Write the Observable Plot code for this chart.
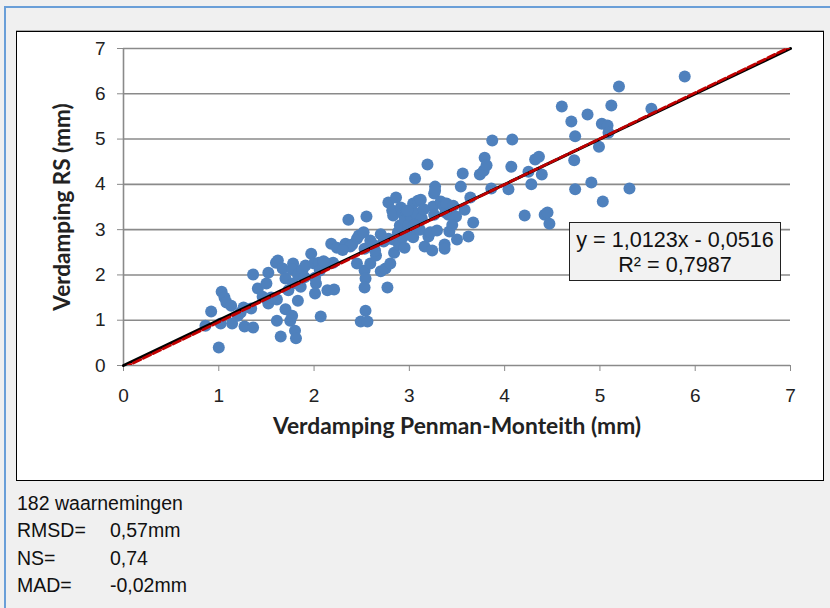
<!DOCTYPE html>
<html><head><meta charset="utf-8">
<script src="https://cdn.jsdelivr.net/npm/d3@7"></script>
<script src="https://cdn.jsdelivr.net/npm/@observablehq/plot@0.6"></script>
<style>
html,body{margin:0;padding:0}
body{width:830px;height:608px;overflow:hidden;background:#f0f0f0;font-family:"Liberation Sans",Arial,sans-serif;position:relative}
#frame{position:absolute;left:4px;top:6px;right:0;bottom:0;border-left:2px solid #6a9fd8;border-top:2px solid #6a9fd8}
#box{position:absolute;left:16px;top:31px;width:808px;height:450px;background:#fff;border:1px solid #000;box-sizing:border-box;box-shadow:0 -1px 0 #aaa}
#box svg{position:absolute;left:0;top:0;overflow:visible}
#eq{position:absolute;left:569px;top:222px;width:212px;height:59px;box-sizing:border-box;background:#f2f2f2;border:1.5px solid #222;text-align:center;font-size:21.6px;line-height:25px;padding-top:4px;color:#111;white-space:nowrap}
#stats{position:absolute;left:17px;top:490px;font-size:19.5px;line-height:27.3px;color:#111}
#stats .row span.l{display:inline-block;width:93px}
</style></head>
<body>
<div id="frame"></div>
<div id="box"></div>
<div id="eq"></div>
<div id="stats"></div>
<script>
// Penman-Monteith evaporation (mm)
const pmX = [0.86,0.92,1.00,1.03,1.06,1.08,1.13,1.02,1.14,1.23,1.26,1.27,1.34,1.36,1.36,1.41,1.46,1.52,1.50,1.52,
1.60,1.62,1.61,1.61,1.67,1.65,1.70,1.73,1.70,1.75,1.78,1.78,1.77,1.80,1.81,1.77,1.83,1.83,1.86,1.88,
1.91,1.97,2.00,2.01,2.02,2.05,2.06,2.01,2.07,2.14,2.14,2.18,2.20,2.21,2.24,2.33,2.36,2.40,2.45,2.47,
2.49,2.52,2.53,2.53,2.54,2.55,2.54,2.53,2.56,2.59,2.59,2.62,2.65,2.70,2.73,2.75,2.78,2.78,2.77,2.80,
2.82,2.83,2.83,2.84,2.86,2.88,2.89,2.90,2.91,2.93,2.93,2.95,2.97,2.99,3.01,3.02,3.04,3.04,3.06,3.07,
3.09,3.07,3.11,3.12,3.13,3.16,3.19,3.20,3.22,3.24,3.25,3.26,3.26,3.27,3.29,3.33,3.36,3.37,3.37,3.38,
3.39,3.41,3.42,3.46,3.49,3.50,3.54,3.56,3.58,3.62,3.64,3.67,3.74,3.78,3.79,3.81,3.86,3.87,4.04,4.07,
4.08,4.21,4.25,4.28,4.32,4.36,4.39,4.42,4.45,4.47,4.60,4.70,4.73,4.74,4.74,4.87,4.91,4.99,5.02,5.03,
5.08,5.09,5.12,5.20,5.31,5.54,5.89,
2.38,2.64,2.30,2.98,3.27,2.95,3.05,2.70,3.15,2.45,1.90,2.10,1.55,3.45,1.20];
// RS evaporation (mm)
const rsY = [0.88,1.19,0.40,1.63,1.50,1.39,1.32,0.93,0.93,1.17,1.28,0.86,1.26,2.01,0.84,1.70,1.52,1.37,1.81,2.05,
2.27,2.32,1.46,0.99,2.14,0.64,1.92,1.66,1.24,0.99,2.25,1.81,1.10,0.77,0.60,2.12,2.01,1.43,1.74,2.12,
2.21,2.47,2.25,1.94,1.81,2.27,2.10,1.59,1.08,1.66,2.25,2.69,2.27,1.68,2.60,2.69,3.22,2.67,2.80,2.87,
0.97,2.94,2.58,2.10,1.92,3.29,1.21,1.72,0.97,2.76,2.25,2.67,2.43,2.08,2.74,2.14,2.80,3.60,1.72,2.25,
3.42,3.31,2.78,2.49,3.71,2.94,2.67,3.09,3.49,3.36,2.83,3.20,3.40,3.09,2.91,3.29,2.83,3.58,4.13,3.36,
3.64,3.09,3.00,3.66,3.25,2.63,4.44,2.85,2.94,2.54,3.51,3.80,3.33,3.95,2.98,3.62,3.53,2.67,2.58,3.38,
3.58,3.33,2.96,3.53,3.29,2.78,3.95,4.24,3.44,2.85,3.71,3.16,4.22,4.30,4.59,4.42,3.91,4.97,3.89,4.39,
4.99,3.31,4.28,4.00,4.55,4.61,4.22,3.33,3.38,3.13,5.72,5.39,4.53,5.06,3.89,5.54,4.04,4.83,5.34,3.62,
5.30,5.14,5.74,6.16,3.91,5.67,6.38,
2.63,2.54,2.55,3.42,3.86,2.60,3.10,2.90,3.45,2.25,1.95,2.30,1.50,3.10,1.10];

const axisTicks = [0,1,2,3,4,5,6,7];
const trendSlope = 1.0123, trendIntercept = -0.0516;
const eqLines = ["y = 1,0123x - 0,0516", "R² = 0,7987"];
const nObs = 182;
const statLabels = ["RMSD=", "NS=", "MAD="];
const statValues = ["0,57mm", "0,74", "-0,02mm"];
const xTitle = "Verdamping Penman-Monteith (mm)";
const yTitle = "Verdamping RS (mm)";

const points = pmX.map((x,i)=>({x, y: rsY[i]}));
const lo = axisTicks[0], hi = axisTicks[axisTicks.length-1];
const oneToOne = [{x:lo,y:lo},{x:hi,y:hi}];
const trend = [lo, hi].map(x=>({x, y: trendSlope*x + trendIntercept}));

const chart = Plot.plot({
  width: 806, height: 448,
  marginLeft: 106, marginRight: 33, marginTop: 16, marginBottom: 115,
  style: {fontFamily: '"Liberation Sans", Arial, sans-serif', fontSize: "19px", color: "#222", background: "transparent"},
  x: {domain: [lo, hi], ticks: axisTicks},
  y: {domain: [lo, hi], ticks: axisTicks},
  marks: [
    Plot.gridY(axisTicks, {stroke: "#8a8a8a", strokeOpacity: 1, strokeWidth: 1.6}),
    Plot.ruleX([lo], {stroke: "#8a8a8a", strokeWidth: 1.6}),
    Plot.axisY(axisTicks, {tickSize: 6, tickPadding: 12, stroke: "#8a8a8a", label: null, fontSize: 19, fill: "#222"}),
    Plot.axisX(axisTicks, {tickSize: 6, tickPadding: 17, stroke: "#8a8a8a", label: null, fontSize: 19, fill: "#222"}),
    Plot.dot(points, {x: "x", y: "y", r: 6, fill: "#4f81bd", stroke: "none"}),
    Plot.line(oneToOne, {x: "x", y: "y", stroke: "#000", strokeWidth: 3}),
    Plot.line(trend, {x: "x", y: "y", stroke: "#c00000", strokeWidth: 2.8, strokeDasharray: "8,3", clip: true}),
    Plot.text([xTitle], {frameAnchor: "bottom", dy: 68, fontWeight: "bold", fontSize: 22.8, fontFamily: "Lato", fill: "#222"}),
    Plot.text([yTitle], {frameAnchor: "left", textAnchor: "middle", dx: -61, rotate: -90, fontWeight: "bold", fontSize: 22.5, fontFamily: "Lato", fill: "#222"})
  ]
});
document.getElementById("box").appendChild(chart);

document.getElementById("eq").innerHTML = eqLines.map(t=>`<div>${t}</div>`).join("");
const st = document.getElementById("stats");
st.innerHTML = `<div class="row">${nObs} waarnemingen</div>` +
  statLabels.map((l,i)=>`<div class="row"><span class="l">${l}</span>${statValues[i]}</div>`).join("");
</script>
</body></html>
